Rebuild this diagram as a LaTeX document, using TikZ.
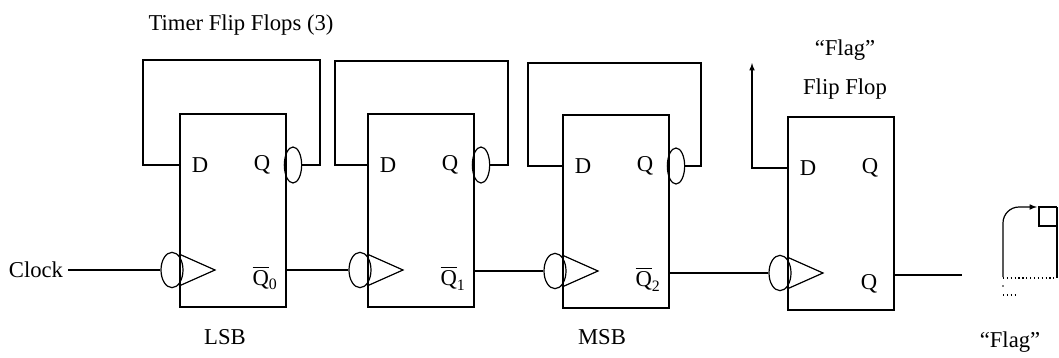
\documentclass[tikz,border=0pt]{standalone}
\usepackage{amsmath}
\usepackage{fontspec}
\setmainfont{Liberation Serif}
\usepackage{tikz}
\usetikzlibrary{shapes,calc,arrows,positioning}
\tikzstyle{flipflop}=[draw, line width=1.7pt, minimum width=79.5pt, minimum height=144.75pt, anchor=north west, inner sep=0pt]
\tikzstyle{clkbubble}=[draw, ellipse, line width=0.9pt, minimum width=16.5pt, minimum height=26.5pt, inner sep=0pt]
\tikzstyle{qbubble}=[draw, ellipse, line width=0.9pt, minimum width=13pt, minimum height=27pt, inner sep=0pt]
\tikzstyle{pin}=[inner sep=0pt]

\begin{document}
\begin{tikzpicture}[x=0.75pt, y=-0.75pt, line width=0.9pt, every node/.style={font=\fontsize{17}{19}\selectfont}]
    \useasboundingbox (0,0) rectangle (1059,357);
    % Place flip flops
    \node[flipflop] (ff1) at (179,113) {};
    \node[flipflop] (ff2) at (367,113) {};
    \node[flipflop] (ff3) at (562,114) {};
    \node[flipflop] (ff4) at (787,116) {};

    % pin labels
    \node[pin] (d1) at (200,165) {D};
    \node[pin] (d2) at (388,165) {D};
    \node[pin] (d3) at (583,166) {D};
    \node[pin] (d4) at (808,168) {D};
    \node[pin] (q1) at (262,165) {Q};
    \node[pin] (q2) at (450,165) {Q};
    \node[pin] (q3) at (645,166) {Q};
    \node[pin] (q4) at (870,168) {Q};
    \node[pin] (nq1) at (265,278) {$\overline{\text{Q}}_{\text{0}}$};
    \node[pin] (nq2) at (453,278) {$\overline{\text{Q}}_{\text{1}}$};
    \node[pin] (nq3) at (648,279) {$\overline{\text{Q}}_{\text{2}}$};
    \node[pin] (nq4) at (869,284) {Q};

    % clock inputs
    \node[clkbubble] (c1) at (172,270) {};
    \node[clkbubble] (c2) at (360,270) {};
    \node[clkbubble] (c3) at (555,271) {};
    \node[clkbubble] (c4) at (780,273) {};
    \draw (179,254) -- (215,270) -- (179,286);
    \draw (367,254) -- (403,270) -- (367,286);
    \draw (562,255) -- (598,271) -- (562,287);
    \draw (787,257) -- (823,273) -- (787,289);

    % inverted Q outputs
    \node[qbubble] (o1) at (293,165) {};
    \node[qbubble] (o2) at (481,165) {};
    \node[qbubble] (o3) at (676,166) {};

    % texts
    \node (title) at (241,25) {Timer Flip Flops (3)};
    \node (clk) at (36,270) {Clock};
    \node (lsb) at (225,337) {LSB};
    \node (msb) at (602,337) {MSB};
    \node (flagff) at (845,50) {``Flag''};
    \node[below=6pt of flagff] (flagff2) {Flip Flop};
    \node (flagbit) at (1010,342) {``Flag''};

    % ripple connections
    \draw (clk) -- (c1);
    \draw (ff1.east |- c2) -- (c2);
    \draw (ff2.east |- c3) -- (c3);
    \draw (ff3.east |- c4) -- (c4);

    % feedback loops
    \draw (o1) -| (320,60) -| (143,165) -- (ff1.west |- d1);
    \draw (o2) -| (508,61) -| (335,165) -- (ff2.west |- d2);
    \draw (o3) -| (701,63) -| (528,166) -- (ff3.west |- d3);

    \coordinate (flagup) at (752,63);
    \draw[-latex] (ff4.west |- d4) -| (flagup);
    \coordinate (flagout) at (962,275);
    \draw (ff4.east |- flagout) -- (flagout);

    % flag symbol
    \draw[-latex, rounded corners=12pt] (1003,277) -- (1003,207) -- (1037,207);
    \draw (1057,207) -- (1039,207) -- (1039,226) -- (1057,226);
    \draw (1057,207) -- (1057,278);
    \draw[dotted] (1003,278) -- (1057,278);
    \draw[dotted] (1003,295) -- (1018,295);
    \fill (1003,286) circle (0.6pt);
\end{tikzpicture}
\end{document}
